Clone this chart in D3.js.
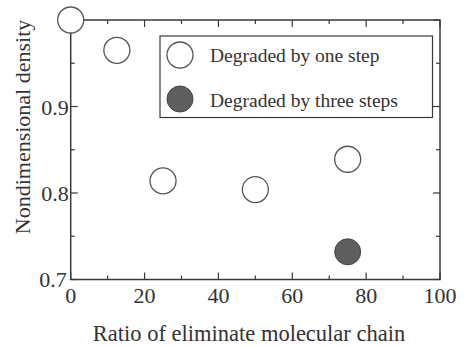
<!DOCTYPE html>
<html>
<head>
<meta charset="utf-8">
<script src="https://cdn.jsdelivr.net/npm/d3@7"></script>
<style>
  body { margin: 0; background: #fff; }
</style>
</head>
<body>
<svg id="chart" width="465" height="347"></svg>
<script>
// ratio of eliminated chain vs nondimensional density
var oneStepX = [0, 12.5, 25, 50, 75];
var oneStepY = [1.0, 0.965, 0.814, 0.804, 0.839];
var threeStepX = [75];
var threeStepY = [0.732];
var xTicks = [0, 20, 40, 60, 80, 100];
var xMinor = [10, 30, 50, 70, 90];
var yTicks = [0.7, 0.8, 0.9];
var yMajor = [0.7, 0.8, 0.9, 1.0];
var yMinor = [0.75, 0.85, 0.95];
var legendLabels = ["Degraded by one step", "Degraded by three steps"];

var svg = d3.select("#chart")
	.attr("font-family", "'Liberation Serif', 'DejaVu Serif', serif");
var m = { l: 70.7, r: 440, t: 20, b: 279.5 };

var x = d3.scaleLinear().domain([0, 100]).range([m.l, m.r]);
var y = d3.scaleLinear().domain([0.7, 1.0]).range([m.b, m.t]);

var ink = "#3a3a3a";
var txt = "#333";

// frame
svg.append("rect")
	.attr("x", m.l).attr("y", m.t)
	.attr("width", m.r - m.l).attr("height", m.b - m.t)
	.attr("fill", "none").attr("stroke", ink).attr("stroke-width", 1.5);

// inward ticks on all four sides
function ticksX(vals, len) {
	vals.forEach(function(v) {
		svg.append("line").attr("x1", x(v)).attr("x2", x(v))
			.attr("y1", m.b).attr("y2", m.b - len)
			.attr("stroke", ink).attr("stroke-width", 1.2);
		svg.append("line").attr("x1", x(v)).attr("x2", x(v))
			.attr("y1", m.t).attr("y2", m.t + len)
			.attr("stroke", ink).attr("stroke-width", 1.2);
	});
}
function ticksY(vals, len) {
	vals.forEach(function(v) {
		svg.append("line").attr("y1", y(v)).attr("y2", y(v))
			.attr("x1", m.l).attr("x2", m.l + len)
			.attr("stroke", ink).attr("stroke-width", 1.2);
		svg.append("line").attr("y1", y(v)).attr("y2", y(v))
			.attr("x1", m.r).attr("x2", m.r - len)
			.attr("stroke", ink).attr("stroke-width", 1.2);
	});
}
ticksX(xTicks, 7);
ticksX(xMinor, 4);
ticksY(yMajor, 7);
ticksY(yMinor, 4);

// tick labels
svg.selectAll(".xl").data(xTicks).enter().append("text")
	.attr("x", function(d) { return x(d); })
	.attr("y", m.b + 23)
	.attr("text-anchor", "middle")
	.attr("font-size", 22)
	.attr("fill", txt)
	.text(function(d) { return d; });

svg.selectAll(".yl").data(yTicks).enter().append("text")
	.attr("x", function(d) { return m.l - (d === 0.7 ? 4 : 2); })
	.attr("y", function(d) { return y(d) + (d === 0.7 ? 7 : 8); })
	.attr("text-anchor", "end")
	.attr("font-size", 22)
	.attr("fill", txt)
	.text(function(d) { return d3.format(".1f")(d); });

// axis titles
svg.append("text")
	.attr("x", (94 + 404) / 2).attr("y", 341)
	.attr("text-anchor", "middle")
	.attr("font-size", 22.5)
	.attr("fill", txt)
	.text("Ratio of eliminate molecular chain");

svg.append("text")
	.attr("transform", "translate(30,127) rotate(-90)")
	.attr("text-anchor", "middle")
	.attr("font-size", 22)
	.attr("fill", txt)
	.text("Nondimensional density");

// legend
var lg = svg.append("g");
lg.append("rect")
	.attr("x", 160).attr("y", 36)
	.attr("width", 272.5).attr("height", 81.5)
	.attr("fill", "#fff").attr("stroke", ink).attr("stroke-width", 1.2);
lg.append("circle").attr("cx", 180).attr("cy", 55).attr("r", 13)
	.attr("fill", "#fff").attr("stroke", "#555").attr("stroke-width", 1.3);
lg.append("circle").attr("cx", 180).attr("cy", 99).attr("r", 13)
	.attr("fill", "#5f5f5f").attr("stroke", "#444").attr("stroke-width", 1);
lg.selectAll("text").data(legendLabels).enter().append("text")
	.attr("x", 210)
	.attr("y", function(d, i) { return 62 + i * 45; })
	.attr("font-size", 19.5)
	.attr("fill", txt)
	.text(function(d) { return d; });

// data
svg.selectAll(".one").data(oneStepX).enter().append("circle")
	.attr("cx", function(d) { return x(d); })
	.attr("cy", function(d, i) { return y(oneStepY[i]); })
	.attr("r", 13)
	.attr("fill", "#fff").attr("stroke", "#555").attr("stroke-width", 1.3);

svg.selectAll(".three").data(threeStepX).enter().append("circle")
	.attr("cx", function(d) { return x(d); })
	.attr("cy", function(d, i) { return y(threeStepY[i]); })
	.attr("r", 13)
	.attr("fill", "#5f5f5f").attr("stroke", "#444").attr("stroke-width", 1);
</script>
</body>
</html>
